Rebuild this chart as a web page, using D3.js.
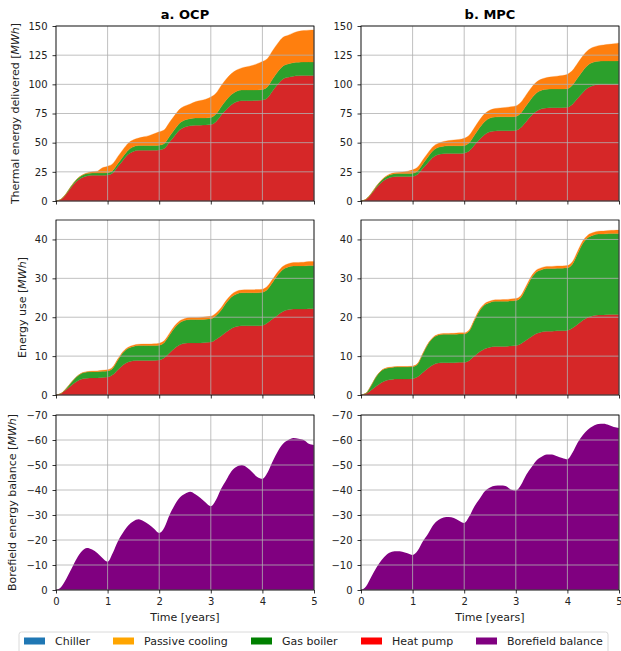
<!DOCTYPE html>
<html>
<head>
<meta charset="utf-8">
<script src="https://cdnjs.cloudflare.com/ajax/libs/d3/7.8.5/d3.min.js"></script>
<style>
  body { margin: 0; background: #fff; }
  svg { display: block; font-family: "DejaVu Sans", sans-serif; }
</style>
</head>
<body>
<script>

// sample times [years]
var years = [0, 0.1, 0.2, 0.3, 0.4, 0.5, 0.6, 0.7, 0.8, 0.9,
    1, 1.1, 1.2, 1.3, 1.4, 1.5, 1.6, 1.7, 1.8, 1.9,
    2, 2.1, 2.2, 2.3, 2.4, 2.5, 2.6, 2.7, 2.8, 2.9,
    3, 3.1, 3.2, 3.3, 3.4, 3.5, 3.6, 3.7, 3.8, 3.9,
    4, 4.1, 4.2, 4.3, 4.4, 4.5, 4.6, 4.7, 4.8, 4.9, 5];

// thermal energy delivered, cumulative per source [MWh]
var hpOCP = [0, 1.5, 6, 12, 17, 20, 21.5, 22, 22, 22, 22.3,
    24, 29.5, 35, 40, 42.5, 43.5, 43.5, 43.5, 43.6, 43.8,
    45, 50.5, 56, 61, 63.5, 64.5, 65, 65, 65.1, 65.5,
    68, 73.5, 78.5, 82.5, 85, 86, 86, 86, 86.1, 86.5,
    88.5, 94.5, 100, 104.5, 106, 107, 107.3, 107.5, 107.5, 107.5];
var gbOCP = [0, 0.1, 0.5, 1, 1.5, 1.8, 2, 2, 2, 2, 2,
    2.2, 2.7, 3.2, 3.6, 3.9, 4, 4, 4, 4, 4,
    4.3, 4.9, 5.4, 5.8, 6, 6.1, 6.1, 6.1, 6.1, 6.1,
    6.5, 7.3, 8.1, 8.7, 9, 9.1, 9.1, 9.1, 9.1, 9.1,
    9.5, 10.2, 10.9, 11.3, 11.5, 11.6, 11.6, 11.6, 11.6, 11.6];
var pcOCP = [0, 0, 0, 0, 0, 0.2, 0.6, 1.1, 1.6, 4.5, 5.5,
    5.8, 6, 6, 6, 6, 6.5, 7.5, 8.5, 10, 11.5,
    11.8, 12, 12, 12, 12, 12.5, 14, 15, 16, 17.5,
    17.8, 18, 18, 18, 18.2, 19, 20, 21, 22.5, 24,
    24.2, 24.3, 24.4, 24.5, 24.6, 25.5, 26.5, 27, 27.3, 27.5];

var hpMPC = [0, 1.5, 6, 11.5, 16, 19, 20.5, 21, 21, 21, 21.2,
    23, 28, 33, 37.5, 39.8, 40.6, 40.8, 40.8, 40.8, 41,
    43, 48, 53, 57, 59.3, 60, 60.2, 60.2, 60.2, 60.5,
    63, 68, 73, 77, 79, 79.8, 80, 80, 80, 80.3,
    83, 88, 93, 97, 99, 99.8, 100, 100, 100, 100.2];
var gbMPC = [0, 0.1, 0.5, 1.2, 1.8, 2.2, 2.4, 2.5, 2.5, 2.5, 2.5,
    2.9, 4, 5, 5.8, 6.2, 6.4, 6.5, 6.5, 6.5, 6.5,
    7.1, 8.5, 10, 11.2, 11.8, 12, 12, 12, 12, 12,
    12.5, 13.6, 14.7, 15.5, 15.9, 16, 16, 16, 16, 16,
    16.5, 17.6, 18.7, 19.5, 19.9, 20, 20, 20, 20, 20];
var pcMPC = [0, 0, 0, 0.1, 0.3, 0.5, 0.8, 1, 1.3, 2, 3,
    3.2, 3.3, 3.4, 3.5, 3.6, 4, 4.5, 5, 5.5, 6.2,
    6.4, 6.5, 6.6, 6.7, 6.8, 7.2, 7.6, 8, 8.5, 9,
    9.2, 9.3, 9.4, 9.5, 9.6, 10, 10.5, 11, 11.5, 12.3,
    12.5, 12.6, 12.7, 12.8, 12.9, 13.3, 13.8, 14.3, 14.8, 15.3];

// energy use, cumulative per source [MWh]
var hpUseOCP = [0, 0.4, 1.4, 2.5, 3.5, 4.1, 4.3, 4.4, 4.4, 4.5, 4.6,
    5.2, 6.5, 7.7, 8.5, 8.8, 8.9, 8.9, 8.9, 8.9, 9,
    9.6, 10.8, 12, 12.9, 13.3, 13.4, 13.4, 13.4, 13.5, 13.6,
    14.3, 15.2, 16.2, 17.1, 17.6, 17.8, 17.8, 17.8, 17.8, 17.9,
    18.6, 19.6, 20.6, 21.5, 21.9, 22.1, 22.1, 22.1, 22.2, 22.2];
var gbUseOCP = [0, 0, 0.3, 0.8, 1.2, 1.5, 1.6, 1.6, 1.6, 1.6, 1.6,
    1.7, 2.5, 3.2, 3.5, 3.7, 3.8, 3.8, 3.8, 3.8, 3.8,
    3.9, 4.6, 5.3, 5.7, 5.9, 6, 6, 6, 6, 6,
    6.1, 6.6, 7.5, 8.1, 8.4, 8.5, 8.5, 8.5, 8.5, 8.5,
    8.6, 9.4, 10.3, 10.8, 11, 11.1, 11.1, 11.1, 11.1, 11.1];
var pcUseOCP = [0, 0, 0, 0, 0, 0.05, 0.1, 0.15, 0.2, 0.25, 0.3,
    0.3, 0.3, 0.3, 0.3, 0.3, 0.35, 0.4, 0.4, 0.45, 0.5,
    0.5, 0.5, 0.5, 0.5, 0.5, 0.55, 0.55, 0.6, 0.6, 0.65,
    0.65, 0.65, 0.65, 0.65, 0.7, 0.7, 0.75, 0.75, 0.8, 0.8,
    0.8, 0.8, 0.8, 0.8, 0.85, 0.85, 0.9, 0.95, 1, 1];

var hpUseMPC = [0, 0.4, 1.3, 2.3, 3.2, 3.8, 4, 4.1, 4.1, 4.1, 4.2,
    4.7, 5.8, 6.9, 7.8, 8.2, 8.3, 8.3, 8.3, 8.4, 8.4,
    8.9, 10, 11.1, 11.9, 12.3, 12.5, 12.5, 12.5, 12.6, 12.7,
    13.2, 14.1, 15, 15.8, 16.2, 16.4, 16.4, 16.5, 16.5, 16.6,
    17.2, 18.2, 19.2, 20, 20.4, 20.6, 20.6, 20.7, 20.7, 20.7];
var gbUseMPC = [0, 0.1, 1.2, 2.5, 3.1, 3.1, 3.1, 3.1, 3.1, 3.1, 3.1,
    3.3, 4.8, 6.2, 6.9, 7.2, 7.3, 7.3, 7.3, 7.3, 7.3,
    7.6, 9.2, 10.6, 11.3, 11.5, 11.6, 11.6, 11.6, 11.6, 11.6,
    11.9, 13.4, 15, 15.8, 16, 16.1, 16.1, 16.1, 16.1, 16.1,
    16.5, 18.2, 19.8, 20.5, 20.7, 20.8, 20.8, 20.8, 20.8, 20.8];
var pcUseMPC = [0, 0, 0, 0, 0.05, 0.1, 0.1, 0.1, 0.12, 0.14, 0.15,
    0.15, 0.16, 0.17, 0.18, 0.2, 0.22, 0.24, 0.26, 0.28, 0.3,
    0.3, 0.31, 0.32, 0.33, 0.35, 0.38, 0.41, 0.44, 0.47, 0.5,
    0.5, 0.51, 0.52, 0.53, 0.55, 0.56, 0.57, 0.58, 0.59, 0.6,
    0.6, 0.62, 0.64, 0.66, 0.68, 0.72, 0.77, 0.82, 0.86, 0.9];

// borefield energy balance [MWh]
var balOCP = [0, -1.2, -4.5, -8.5, -12.5, -15.5, -16.8, -16.2, -14.8, -12.8, -11.3,
    -14.8, -19.5, -23, -25.8, -27.5, -28.3, -27.5, -26.2, -24.5, -22.8,
    -25, -30, -34, -37, -38.5, -39.3, -38.3, -36.8, -35, -33.5,
    -36, -40.5, -44, -47.5, -49.3, -50, -49, -47.2, -45.2, -44.5,
    -47, -51.5, -55.5, -58.5, -60, -60.8, -60.5, -60, -58.5, -58];
var balMPC = [0, -1.5, -5.3, -9, -12, -14.2, -15.3, -15.5, -15.3, -14.7, -14,
    -15.8, -19.5, -22.5, -26, -28, -29, -29.2, -28.8, -27.7, -26.8,
    -29.5, -33.5, -36.5, -39.5, -41, -41.7, -41.8, -41.6, -40.2, -39.8,
    -42, -46, -49, -51.8, -53.3, -54.2, -54.2, -53.5, -52.8, -52.3,
    -55, -59, -62, -64.2, -65.6, -66.4, -66.5, -66, -65.2, -64.8];

var titles = ["a. OCP", "b. MPC"];
var timeTicks = [0, 1, 2, 3, 4, 5];
var thermalTicks = [0, 25, 50, 75, 100, 125, 150];
var useTicks = [0, 10, 20, 30, 40];
var balanceTicks = [0, -10, -20, -30, -40, -50, -60, -70];

var legendLabels = ["Chiller", "Passive cooling", "Gas boiler", "Heat pump", "Borefield balance"];
var legendColors = ["#1f77b4", "orange", "green", "red", "purple"];

var srcColors = { hp: "#d62728", gb: "#2ca02c", pc: "#ff7f0e" };

var svg = d3.select("body").append("svg")
    .attr("width", 621)
    .attr("height", 651);

svg.append("rect").attr("width", 621).attr("height", 651).attr("fill", "#fff");

var colX = [56, 361], colW = 258;
var rowY = [26, 220, 415], rowH = 175;

var x = d3.scaleLinear().domain([0, 5]).range([0, colW]);

function panel(col, row, yDomain, yTicks, drawMarks) {
    var g = svg.append("g")
        .attr("transform", "translate(" + colX[col] + "," + rowY[row] + ")");

    var y = d3.scaleLinear().domain(yDomain).range([rowH, 0]);

    drawMarks(g, y);

    // grid on top of the fills, like the original
    g.append("g").selectAll("line").data(timeTicks).enter().append("line")
        .attr("x1", function (d) { return x(d); })
        .attr("x2", function (d) { return x(d); })
        .attr("y1", 0).attr("y2", rowH)
        .attr("stroke", "#b0b0b0").attr("stroke-width", 0.8);
    g.append("g").selectAll("line").data(yTicks).enter().append("line")
        .attr("y1", function (d) { return y(d); })
        .attr("y2", function (d) { return y(d); })
        .attr("x1", 0).attr("x2", colW)
        .attr("stroke", "#b0b0b0").attr("stroke-width", 0.8);

    var xAxis = d3.axisBottom(x).tickValues(timeTicks).tickSize(3.5).tickPadding(4.5)
        .tickFormat(row < 2 ? "" : d3.format("d"));
    var xg = g.append("g").attr("transform", "translate(0," + rowH + ")").call(xAxis);

    var yAxis = d3.axisLeft(y).tickValues(yTicks).tickSize(3.5).tickPadding(5);
    var yg = g.append("g").call(yAxis);

    [xg, yg].forEach(function (a) {
        a.select(".domain").remove();
        a.selectAll("line").attr("stroke", "#000").attr("stroke-width", 0.8);
        a.selectAll("text").style("font-size", "10px").attr("fill", "#222")
            .style("font-family", "'DejaVu Sans', sans-serif");
    });

    g.append("rect")
        .attr("width", colW).attr("height", rowH)
        .attr("fill", "none").attr("stroke", "#000").attr("stroke-width", 0.8);

    return g;
}

function stacked(hp, gb, pc) {
    var rows = years.map(function (t, i) { return { t: t, hp: hp[i], gb: gb[i], pc: pc[i] }; });
    var layers = d3.stack().keys(["hp", "gb", "pc"])(rows);
    return function (g, y) {
        var area = d3.area()
            .x(function (d) { return x(d.data.t); })
            .y0(function (d) { return y(d[0]); })
            .y1(function (d) { return y(d[1]); })
            .curve(d3.curveMonotoneX);
        g.selectAll("path.layer").data(layers).enter().append("path")
            .attr("class", "layer")
            .attr("d", area)
            .attr("fill", function (d) { return srcColors[d.key]; })
            .attr("stroke", function (d) { return srcColors[d.key]; })
            .attr("stroke-width", 0.3);
    };
}

function balance(vals) {
    return function (g, y) {
        var area = d3.area()
            .x(function (d, i) { return x(years[i]); })
            .y0(y(0))
            .y1(function (d) { return y(d); })
            .curve(d3.curveMonotoneX);
        g.append("path").datum(vals)
            .attr("d", area)
            .attr("fill", "#800080");
    };
}

panel(0, 0, [0, 150], thermalTicks, stacked(hpOCP, gbOCP, pcOCP));
panel(1, 0, [0, 150], thermalTicks, stacked(hpMPC, gbMPC, pcMPC));
panel(0, 1, [0, 45], useTicks, stacked(hpUseOCP, gbUseOCP, pcUseOCP));
panel(1, 1, [0, 45], useTicks, stacked(hpUseMPC, gbUseMPC, pcUseMPC));
panel(0, 2, [0, -70], balanceTicks, balance(balOCP));
panel(1, 2, [0, -70], balanceTicks, balance(balMPC));

// titles
titles.forEach(function (t, i) {
    svg.append("text")
        .attr("x", colX[i] + colW / 2).attr("y", 18.5)
        .attr("text-anchor", "middle")
        .style("font-size", "13px").style("font-weight", "bold")
        .attr("fill", "#000")
        .text(t);
    svg.append("text")
        .attr("x", colX[i] + colW / 2).attr("y", 620.5)
        .attr("text-anchor", "middle")
        .style("font-size", "11px").attr("fill", "#222")
        .text("Time [years]");
});

// y labels, MWh in italics
var yLabels = [
    { text: "Thermal energy delivered ", x: 19, row: 0 },
    { text: "Energy use ", x: 25.5, row: 1 },
    { text: "Borefield energy balance ", x: 15.5, row: 2 }
];
yLabels.forEach(function (l) {
    var t = svg.append("text")
        .attr("transform", "translate(" + l.x + "," + (rowY[l.row] + rowH / 2) + ")rotate(-90)")
        .attr("text-anchor", "middle")
        .style("font-size", "11px").attr("fill", "#222");
    t.append("tspan").text(l.text + "[");
    t.append("tspan").style("font-style", "italic").text("MWh");
    t.append("tspan").text("]");
});

// legend
var legend = svg.append("g");
legend.append("rect")
    .attr("x", 19).attr("y", 632).attr("width", 589).attr("height", 24)
    .attr("rx", 2.5)
    .attr("fill", "#fff").attr("stroke", "#d0d0d0").attr("stroke-width", 0.8);

var legendX = [24, 113, 251, 361, 476];
legendLabels.forEach(function (name, i) {
    legend.append("rect")
        .attr("x", legendX[i]).attr("y", 637.5)
        .attr("width", 21).attr("height", 7)
        .attr("fill", legendColors[i]);
    legend.append("text")
        .attr("x", legendX[i] + 31).attr("y", 645)
        .style("font-size", "11px").attr("fill", "#222")
        .text(name);
});

</script>
</body>
</html>
